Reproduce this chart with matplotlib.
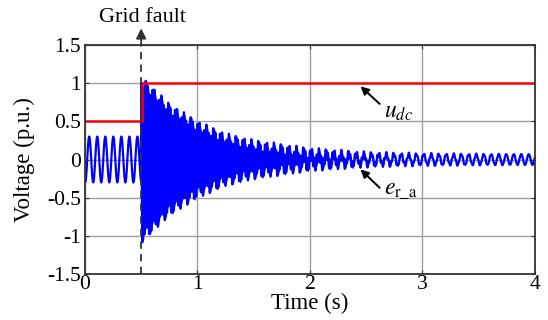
import numpy as np
import matplotlib
matplotlib.use("Agg")
import matplotlib.pyplot as plt

plt.rcParams['font.family'] = ['Liberation Serif', 'DejaVu Serif']
plt.rcParams['mathtext.fontset'] = 'stix'
plt.rcParams['path.simplify'] = False

# values
fault_time = 0.5
udc_before = 0.5
udc_after = 1.0
pre_amp = 0.30          # rotor emf before the fault
pre_freq = 14.0
post_freq = 15.0        # slow ripple after the fault
post_amp = 0.07
hf_freq = 50.0          # decaying fast component
env_t = [0.50, 0.75, 1.00, 1.25, 1.50, 2.00, 2.50, 3.00, 4.00]
env_amp = [1.03, 0.67, 0.44, 0.28, 0.19, 0.085, 0.035, 0.015, 0.0]

t = np.linspace(0, 4, 80001)
pre = t < fault_time
t_pre = t[pre]
t_post = t[~pre]
e_pre = pre_amp * np.sin(2 * np.pi * pre_freq * t_pre - 1.77)
env = np.interp(t_post, env_t, env_amp)
slow = post_amp * np.sin(2 * np.pi * post_freq * t_post + 0.4)
e_post = env * np.sin(2 * np.pi * hf_freq * (t_post - fault_time) + np.pi / 2) + slow
# join the two parts
t_pre = np.append(t_pre, t_post[0])
e_pre = np.append(e_pre, e_post[0])

udc_t = [0, fault_time + 0.01, fault_time + 0.01, 4]
udc_v = [udc_before, udc_before, udc_after, udc_after]

fig = plt.figure(figsize=(5.48, 3.2), dpi=100)
ax = fig.add_axes([0.155, 0.144, 0.821, 0.715])
ax.plot(t_pre, e_pre, color='#0000ff', lw=1.6)
# the fast oscillation is too dense to resolve: shade the band it sweeps
ax.fill_between(t_post, slow - env, slow + env, color='#0000ff', lw=0)
ax.plot(t_post, e_post, color='#0000ff', lw=1.6)
ax.plot(udc_t, udc_v, color='#ff0000', lw=1.8)
ax.plot([fault_time, fault_time], [-1.5, 1.5], color='#333333', lw=1.3, ls=(0, (4, 3)))

ax.set_xlim(0, 4)
ax.set_ylim(-1.5, 1.5)
ax.set_xticks([0, 1, 2, 3, 4])
ax.set_yticks([-1.5, -1, -0.5, 0, 0.5, 1, 1.5])
ax.set_yticklabels(['-1.5', '-1', '-0.5', '0', '0.5', '1', '1.5'])
ax.grid(True, color='#a0a0a0', lw=1.0)
ax.tick_params(direction='in', top=True, right=True, labelsize=15.5, length=3,
               color='#333333', pad=3)
ax.tick_params(axis='x', pad=1)
for s in ax.spines.values():
    s.set_color('#333333')
    s.set_linewidth(1.3)
ax.set_xlabel('Time (s)', fontsize=16.5)
ax.xaxis.set_label_coords(0.5, -0.085)
ax.set_ylabel('Voltage (p.u.)', fontsize=16.5)
ax.yaxis.set_label_coords(-0.111, 0.5)

# grid fault arrow above the axes
ax.annotate('', xy=(fault_time, 1.72), xytext=(fault_time, 1.5),
            arrowprops=dict(arrowstyle='-|>', color='#333333', lw=1.3,
                            mutation_scale=15, shrinkA=0, shrinkB=0),
            annotation_clip=False)
ax.text(fault_time + 0.01, 1.86, 'Grid fault', fontsize=16, ha='center', va='center')

ax.annotate('', xy=(2.45, 0.96), xytext=(2.62, 0.73),
            arrowprops=dict(arrowstyle='-|>', color='black', lw=1.4,
                            mutation_scale=12, shrinkA=0, shrinkB=0))
ax.text(2.66, 0.62, r'$u_{dc}$', fontsize=17, ha='left', va='center')
ax.annotate('', xy=(2.45, -0.13), xytext=(2.62, -0.37),
            arrowprops=dict(arrowstyle='-|>', color='black', lw=1.4,
                            mutation_scale=12, shrinkA=0, shrinkB=0))
ax.text(2.66, -0.42, r'$e_{\mathrm{r\_a}}$', fontsize=17, ha='left', va='center')

fig.savefig('out.png', dpi=100)
